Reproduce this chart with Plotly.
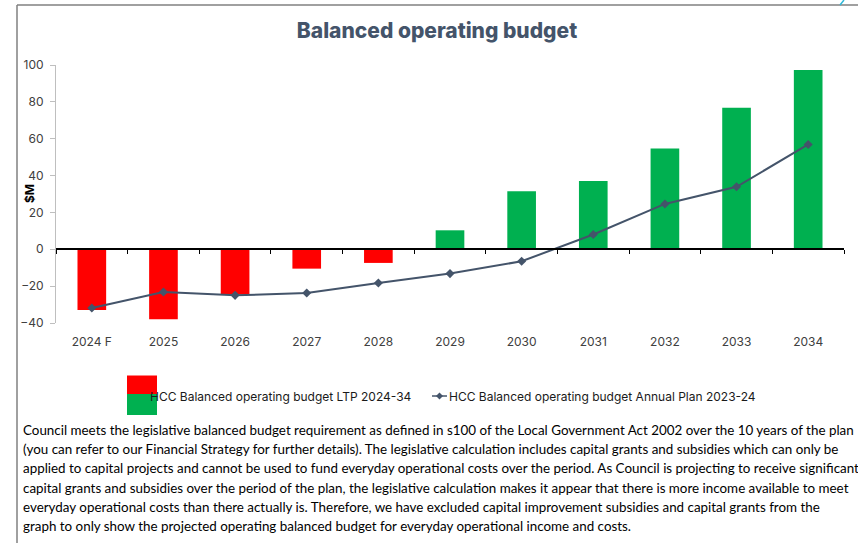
import plotly.graph_objects as go

# ---- data ----
categories = ["2024 F", "2025", "2026", "2027", "2028", "2029", "2030", "2031", "2032", "2033", "2034"]
ltp_values = [-33.0, -38.0, -24.5, -10.5, -7.4, 10.3, 31.5, 37.0, 54.7, 76.8, 97.3]
annual_plan_values = [-31.9, -23.2, -25.0, -23.7, -18.3, -13.2, -6.5, 8.0, 24.6, 33.9, 56.9]
y_ticks = [-40, -20, 0, 20, 40, 60, 80, 100]

title_text = "Balanced operating budget"
bar_name = "HCC Balanced operating budget LTP 2024-34"
line_name = "HCC Balanced operating budget Annual Plan 2023-24"
para_lines = [
    "Council meets the legislative balanced budget requirement as defined in s100 of the Local Government Act 2002 over the 10 years of the plan",
    "(you can refer to our Financial Strategy for further details). The legislative calculation includes capital grants and subsidies which can only be",
    "applied to capital projects and cannot be used to fund everyday operational costs over the period. As Council is projecting to receive significant",
    "capital grants and subsidies over the period of the plan, the legislative calculation makes it appear that there is more income available to meet",
    "everyday operational costs than there actually is. Therefore, we have excluded capital improvement subsidies and capital grants from the",
    "graph to only show the projected operating balanced budget for everyday operational income and costs.",
]

RED = "#FF0000"
GREEN = "#00B050"
LINE = "#44546A"

W, H = 858, 543
L, R, T, B = 56, 14, 65, 220
PW = W - L - R
PH = H - T - B


def px_x(px):
    return (px - L) / PW


def px_y(py):
    return (H - B - py) / PH


bar_colors = [RED if v < 0 else GREEN for v in ltp_values]

fig = go.Figure()
fig.add_trace(go.Bar(
    x=categories, y=ltp_values, marker=dict(color=bar_colors, line=dict(width=0)),
    width=0.4, name=bar_name, showlegend=False, hoverinfo="x+y",
))
fig.add_trace(go.Scatter(
    x=categories, y=annual_plan_values, xaxis="x2", mode="lines+markers",
    line=dict(color=LINE, width=2), marker=dict(symbol="diamond", size=7, color=LINE),
    name=line_name, showlegend=False,
))

tick_font = dict(family="Inter, Lato, sans-serif", size=12, color="#404040")

fig.update_layout(
    width=W, height=H,
    margin=dict(l=L, r=R, t=T, b=B),
    paper_bgcolor="white", plot_bgcolor="white",
    showlegend=False,
    title=dict(text=title_text, x=437 / W, xanchor="center", y=1 - 31 / H, yanchor="middle",
               font=dict(family="Inter, sans-serif", size=21, color=LINE, weight=800)),
    xaxis=dict(type="category", categoryorder="array", categoryarray=categories,
               range=[-0.5, len(categories) - 0.5], showline=False, showgrid=False,
               zeroline=False, ticks="", tickfont=tick_font, ticklabelstandoff=10),
    xaxis2=dict(type="category", categoryorder="array", categoryarray=categories,
                range=[-0.5, len(categories) - 0.5], overlaying="x", anchor="free",
                position=px_y(249), side="bottom", showline=True, linecolor="black",
                linewidth=1.5, ticks="outside", tickson="boundaries", ticklen=4,
                tickcolor="black", tickwidth=1.2, showticklabels=False, showgrid=False,
                zeroline=False),
    yaxis=dict(range=[-40, 100], tickvals=y_ticks, showgrid=False, zeroline=False,
               showline=True, linecolor="#BFBFBF", linewidth=1, ticks="outside",
               ticklen=5, tickcolor="#BFBFBF", tickfont=tick_font, ticklabelstandoff=4),
)

annotations = [
    dict(text="<b>$M</b>", xref="paper", yref="paper", x=px_x(29), y=0.5, textangle=-90,
         showarrow=False, font=dict(family="Inter, sans-serif", size=12, color="black"),
         xanchor="center", yanchor="middle"),
    dict(text=bar_name, xref="paper", yref="paper", x=px_x(148), y=px_y(396),
         xanchor="left", yanchor="middle", showarrow=False,
         font=dict(family="Inter, Lato, sans-serif", size=12, color="#1a1a1a")),
    dict(text=line_name, xref="paper", yref="paper", x=px_x(447), y=px_y(396),
         xanchor="left", yanchor="middle", showarrow=False,
         font=dict(family="Inter, Lato, sans-serif", size=12, color="#1a1a1a")),
]
para_y = [430, 449.2, 468.4, 487.6, 506.8, 526]
for line_text, py in zip(para_lines, para_y):
    annotations.append(dict(
        text=line_text, xref="paper", yref="paper", x=px_x(21), y=px_y(py),
        xanchor="left", yanchor="middle", align="left", showarrow=False,
        font=dict(family="Lato, sans-serif", size=13.4, color="black")))
fig.update_layout(annotations=annotations)

shapes = [
    # frame
    dict(type="line", xref="paper", yref="paper", x0=px_x(17), x1=px_x(858), y0=px_y(5), y1=px_y(5),
         line=dict(color="#808080", width=1.5)),
    dict(type="line", xref="paper", yref="paper", x0=px_x(17), x1=px_x(17), y0=px_y(5), y1=px_y(543),
         line=dict(color="#808080", width=1.5)),
    dict(type="line", xref="paper", yref="paper", x0=px_x(840), x1=px_x(844), y0=px_y(5), y1=px_y(0),
         line=dict(color="#2EB8D8", width=1.5)),
    # legend icons
    dict(type="rect", xref="paper", yref="paper", x0=px_x(127), x1=px_x(157), y0=px_y(394), y1=px_y(375.5),
         fillcolor=RED, line=dict(width=0), layer="above"),
    dict(type="rect", xref="paper", yref="paper", x0=px_x(127), x1=px_x(157), y0=px_y(415), y1=px_y(394),
         fillcolor=GREEN, line=dict(width=0), layer="above"),
    dict(type="line", xref="paper", yref="paper", x0=px_x(432), x1=px_x(447), y0=px_y(396), y1=px_y(396),
         line=dict(color=LINE, width=1.5)),
    dict(type="path", xref="paper", yref="paper",
         path=f"M {px_x(439.5)} {px_y(392.5)} L {px_x(443)} {px_y(396)} L {px_x(439.5)} {px_y(399.5)} L {px_x(436)} {px_y(396)} Z",
         fillcolor=LINE, line=dict(width=0)),
]
fig.update_layout(shapes=shapes)

fig.write_html("out.html")
